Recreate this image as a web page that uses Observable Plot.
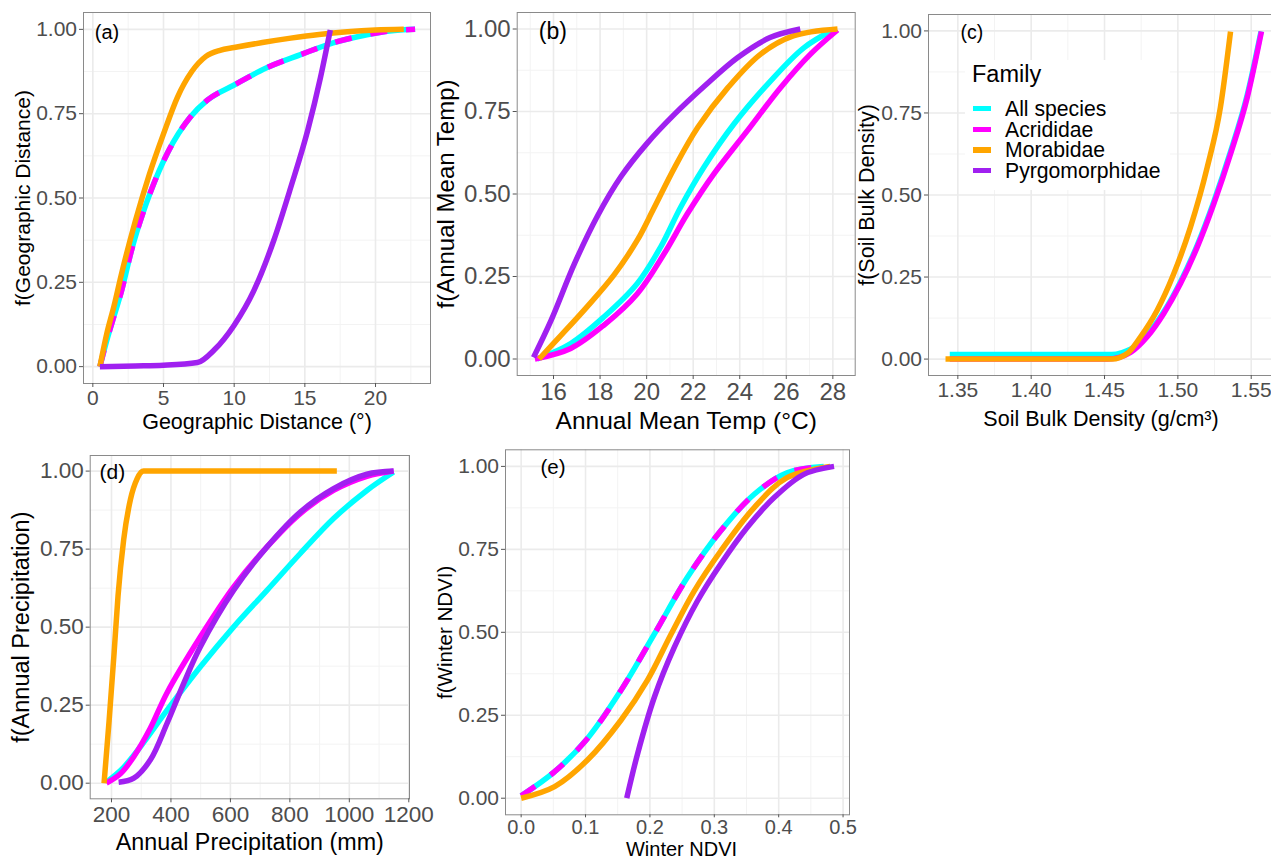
<!DOCTYPE html>
<html>
<head>
<meta charset="utf-8">
<script src="https://cdn.jsdelivr.net/npm/d3@7"></script>
<script src="https://cdn.jsdelivr.net/npm/@observablehq/plot@0.6"></script>
<style>
  html, body { margin: 0; padding: 0; background: white; overflow: hidden; }
  #chart { position: relative; width: 1271px; height: 860px; overflow: hidden; background: white;
           font-family: "Liberation Sans", Arial, sans-serif; }
  #legend { position: absolute; background: white; }
  #legend div { position: absolute; white-space: nowrap; }
</style>
</head>
<body>
<div id="chart"></div>
<script>
// ---------- shared ----------
const families = ["All species", "Acrididae", "Morabidae", "Pyrgomorphidae"];
const familyColors = ["#00FFFF", "#FF00FF", "#FFA500", "#A020F0"];
const yTicks = [0, 0.25, 0.5, 0.75, 1];
const yMinor = [0.125, 0.375, 0.625, 0.875];

// ---------- (a) Geographic distance ----------
const geoTicks = [0, 5, 10, 15, 20];
const geoMinor = [2.5, 7.5, 12.5, 17.5, 22.5];
const geoAll = [[0.5,0],[1,0.08],[1.5,0.15],[2,0.22],[2.8,0.355],[3.5,0.45],[4.1,0.52],[5.3,0.635],[6.9,0.74],[8.1,0.79],[10,0.835],[12.3,0.886],[14.7,0.925],[17,0.96],[19.4,0.984],[21,0.995],[22.8,1.0]];
const geoAcrididae = [[0.5,0],[1,0.08],[1.5,0.15],[2,0.22],[2.8,0.355],[3.5,0.45],[4.1,0.52],[5.3,0.635],[6.9,0.74],[8.1,0.79],[10,0.835],[12.3,0.886],[14.7,0.925],[17,0.96],[19.4,0.984],[21,0.995],[22.8,1.0]];
const geoMorabidae = [[0.5,0],[1,0.1],[1.5,0.18],[2,0.27],[3,0.43],[4,0.57],[5,0.69],[6,0.8],[7,0.875],[8,0.92],[9,0.938],[10,0.946],[12,0.961],[14,0.974],[16,0.985],[18,0.993],[20,0.998],[22,1.0]];
const geoPyrgomorphidae = [[0.5,0],[3,0.002],[5,0.004],[7.4,0.012],[8.6,0.05],[10,0.123],[11.4,0.226],[12.8,0.374],[14,0.531],[15.2,0.7],[16.1,0.856],[16.8,0.998]];

// ---------- (b) Annual mean temperature ----------
const tempTicks = [16, 18, 20, 22, 24, 26, 28];
const tempMinor = [15, 17, 19, 21, 23, 25, 27];
const tempAll = [[15.3,0],[16.74,0.047],[18.17,0.128],[19.6,0.229],[20.6,0.339],[21.46,0.46],[22.46,0.581],[23.75,0.712],[25.33,0.843],[26.75,0.943],[28.0,0.997]];
const tempAcrididae = [[15.2,0],[16.74,0.032],[18.17,0.103],[19.6,0.198],[20.75,0.319],[21.75,0.44],[22.89,0.561],[24.33,0.692],[25.76,0.823],[27.04,0.924],[28.2,0.997]];
const tempMorabidae = [[15.38,0],[16.3,0.07],[17.4,0.155],[18.6,0.255],[19.6,0.36],[20.3,0.455],[21.2,0.58],[22.2,0.702],[23.5,0.823],[24.9,0.924],[26.3,0.979],[28.2,1.0]];
const tempPyrgomorphidae = [[15.14,0.005],[15.9,0.118],[16.9,0.289],[17.9,0.435],[18.9,0.553],[20.0,0.652],[21.2,0.742],[22.5,0.828],[23.9,0.913],[25.3,0.974],[26.6,1.0]];

// ---------- (c) Soil bulk density ----------
const soilTicks = [1.35, 1.40, 1.45, 1.50, 1.55];
const soilMinor = [1.375, 1.425, 1.475, 1.525];
const soilAll = [[1.3445,0.014],[1.455,0.014],[1.462,0.02],[1.4677,0.03],[1.4791,0.074],[1.4904,0.144],[1.5018,0.236],[1.5132,0.347],[1.5245,0.48],[1.5359,0.632],[1.5473,0.805],[1.5567,0.998]];
const soilAcrididae = [[1.3445,0],[1.452,0],[1.46,0.005],[1.4677,0.02],[1.4791,0.068],[1.4904,0.139],[1.5018,0.23],[1.5132,0.341],[1.5245,0.473],[1.5359,0.625],[1.5473,0.797],[1.557,0.998]];
const soilMorabidae = [[1.3416,0],[1.455,0],[1.4655,0.017],[1.4746,0.068],[1.4859,0.149],[1.4972,0.26],[1.5086,0.402],[1.52,0.584],[1.529,0.767],[1.5359,0.998]];

// ---------- (d) Annual precipitation ----------
const precTicks = [200, 400, 600, 800, 1000, 1200];
const precMinor = [300, 500, 700, 900, 1100];
const precAll = [[185,0.005],[240,0.05],[300,0.12],[387,0.234],[499,0.373],[611,0.501],[723,0.618],[835,0.736],[947,0.848],[1059,0.938],[1149,0.997]];
const precAcrididae = [[183,0],[230,0.03],[275,0.085],[330,0.175],[387,0.29],[499,0.469],[611,0.629],[723,0.757],[835,0.864],[947,0.938],[1059,0.983],[1149,1.0]];
const precMorabidae = [[175,0],[192,0.2],[209,0.42],[222,0.6],[241,0.78],[264,0.91],[286,0.975],[308,1.0],[958,1.0]];
const precPyrgomorphidae = [[224,0.003],[275,0.016],[331,0.075],[387,0.192],[443,0.32],[499,0.437],[611,0.618],[723,0.757],[835,0.869],[947,0.944],[1059,0.99],[1149,1.0]];

// ---------- (e) Winter NDVI ----------
const ndviTicks = [0, 0.1, 0.2, 0.3, 0.4, 0.5];
const ndviMinor = [0.05, 0.15, 0.25, 0.35, 0.45];
const ndviAll = [[0,0.007],[0.052,0.08],[0.103,0.18],[0.155,0.325],[0.207,0.495],[0.258,0.665],[0.31,0.806],[0.362,0.916],[0.413,0.981],[0.47,1.0]];
const ndviAcrididae = [[0,0.007],[0.052,0.08],[0.103,0.18],[0.155,0.325],[0.207,0.495],[0.258,0.665],[0.31,0.806],[0.362,0.916],[0.413,0.981],[0.47,1.0]];
const ndviMorabidae = [[0,0],[0.052,0.035],[0.103,0.115],[0.155,0.235],[0.196,0.355],[0.233,0.495],[0.269,0.625],[0.31,0.745],[0.362,0.876],[0.413,0.966],[0.48,1.0]];
const ndviPyrgomorphidae = [[0.164,0],[0.181,0.135],[0.207,0.305],[0.238,0.455],[0.274,0.595],[0.31,0.706],[0.351,0.816],[0.393,0.906],[0.439,0.976],[0.486,1.0]];

const FONT = '"Liberation Sans", Arial, sans-serif';
const chart = document.getElementById("chart");

function makePanel(cfg) {
  const marks = [
    Plot.ruleX(cfg.xMinor, {stroke: "#f3f3f3", strokeWidth: 1}),
    Plot.ruleY(yMinor, {stroke: "#f3f3f3", strokeWidth: 1}),
    Plot.ruleX(cfg.xTicks, {stroke: "#ebebeb", strokeWidth: 1.6}),
    Plot.ruleY(yTicks, {stroke: "#ebebeb", strokeWidth: 1.6})
  ];
  cfg.series.forEach(s => {
    marks.push(Plot.line(s.data, {
      x: d => d[0], y: d => d[1], stroke: s.color, strokeWidth: 5.5,
      curve: s.curve || cfg.curve || "monotone-x", strokeLinecap: "butt", strokeLinejoin: "round",
      strokeDasharray: s.dash
    }));
  });
  marks.push(Plot.frame({stroke: "#8a8a8a", strokeWidth: 1}));
  marks.push(Plot.axisX({ticks: cfg.xTicks, tickFormat: cfg.xFormat, fontSize: cfg.xTickFont || cfg.tickFont,
    tickSize: cfg.xTickSize || 4, tickPadding: cfg.xTickPad || 3, stroke: "#555", fill: "#4d4d4d", label: null}));
  marks.push(Plot.axisY({ticks: yTicks, tickFormat: d3.format(".2f"), fontSize: cfg.tickFont,
    tickSize: 4, tickPadding: 2.5, stroke: "#555", fill: "#4d4d4d", label: null}));
  marks.push(Plot.text([cfg.xTitle], {text: d => d, frameAnchor: "bottom", dy: cfg.xTitleDy, dx: cfg.xTitleDx || 0,
    lineAnchor: "top", textAnchor: "middle", fontSize: cfg.xTitleFont, fill: "black"}));
  marks.push(Plot.text([cfg.yTitle], {text: d => d, frameAnchor: "left", rotate: -90, dx: cfg.yTitleDx,
    lineAnchor: "top", textAnchor: "middle", fontSize: cfg.yTitleFont, fill: "black"}));
  marks.push(Plot.text([cfg.label], {text: d => d, frameAnchor: "top-left", dx: cfg.labelDx, dy: cfg.labelDy,
    textAnchor: "start", lineAnchor: "middle", fontSize: cfg.labelFont, fill: "black"}));

  const svg = Plot.plot({
    width: cfg.w, height: cfg.h,
    marginTop: cfg.m[0], marginRight: cfg.m[1], marginBottom: cfg.m[2], marginLeft: cfg.m[3],
    x: {type: "linear", domain: cfg.xDomain},
    y: {type: "linear", domain: [-0.05, 1.05]},
    style: {background: "transparent", overflow: "visible", fontFamily: FONT, color: "black"},
    marks
  });
  svg.style.position = "absolute";
  svg.style.left = cfg.left + "px";
  svg.style.top = cfg.top + "px";
  svg.style.maxWidth = "none";
  chart.appendChild(svg);
}

function ser(list, dashIdx, curves) {
  return list.map((data, i) => data ? {data, color: familyColors[i],
    dash: (dashIdx === i ? "17,19" : undefined), curve: curves ? curves[i] : undefined} : null).filter(Boolean);
}

makePanel({
  left: 0, top: 0, w: 440, h: 435, m: [12, 10, 52, 83],
  xDomain: [-0.66, 23.89], xTicks: geoTicks, xMinor: geoMinor, xFormat: d3.format("d"),
  series: ser([geoAll, geoAcrididae, geoMorabidae, geoPyrgomorphidae], 1),
  xTitle: "Geographic Distance (°)", yTitle: "f(Geographic Distance)",
  tickFont: 21, xTitleFont: 21.5, yTitleFont: 21, xTitleDy: 30, yTitleDx: -68,
  label: "(a)", labelFont: 20, labelDx: 11.3, labelDy: 19.7
});

makePanel({
  left: 430, top: 0, w: 430, h: 435, m: [12, 5.3, 60, 86.7], curve: "catmull-rom",
  xDomain: [14.44, 28.96], xTicks: tempTicks, xMinor: tempMinor, xFormat: d3.format("d"),
  series: ser([tempAll, tempAcrididae, tempMorabidae, tempPyrgomorphidae], -1),
  xTitle: "Annual Mean Temp (°C)", yTitle: "f(Annual Mean Temp)",
  tickFont: 24, xTitleFont: 24.5, yTitleFont: 24, xTitleDy: 35.7, yTitleDx: -80.7,
  label: "(b)", labelFont: 23, labelDx: 21.6, labelDy: 19
});

makePanel({
  left: 850, top: 0, w: 425, h: 435, m: [14, 2, 60, 78],
  xDomain: [1.33, 1.5652], xTicks: soilTicks, xMinor: soilMinor, xFormat: d3.format(".2f"),
  series: ser([soilAll, soilAcrididae, soilMorabidae, null], -1),
  xTitle: "Soil Bulk Density (g/cm³)", yTitle: "f(Soil Bulk Density)",
  tickFont: 21, xTitleFont: 21.5, yTitleFont: 21.5, xTitleDy: 35.7, yTitleDx: -69.7,
  label: "(c)", labelFont: 19.5, labelDx: 32, labelDy: 18
});

makePanel({
  left: 0, top: 430, w: 440, h: 430, m: [25, 31, 61.7, 89.7],
  xDomain: [128.4, 1202.4], xTicks: precTicks, xMinor: precMinor, xFormat: d3.format("d"),
  series: ser([precAll, precAcrididae, precMorabidae, precPyrgomorphidae], -1,
              ["catmull-rom", "catmull-rom", "monotone-x", "catmull-rom"]),
  xTitle: "Annual Precipitation (mm)", yTitle: "f(Annual Precipitation)",
  tickFont: 22.5, xTitleFont: 23.3, yTitleFont: 23.5, xTitleDy: 34.4, yTitleDx: -78,
  label: "(d)", labelFont: 21, labelDx: 9.3, labelDy: 16.7
});

makePanel({
  left: 430, top: 430, w: 440, h: 430, m: [19.3, 21, 45.7, 75], curve: "catmull-rom",
  xDomain: [-0.0243, 0.510], xTicks: ndviTicks, xMinor: ndviMinor, xFormat: d3.format(".1f"),
  series: ser([ndviAll, ndviAcrididae, ndviMorabidae, ndviPyrgomorphidae], 1),
  xTitle: "Winter NDVI", yTitle: "f(Winter NDVI)",
  tickFont: 21, xTickFont: 20, xTickSize: 3, xTickPad: 1.5,
  xTitleFont: 20, yTitleFont: 20.5, xTitleDy: 27, xTitleDx: 4, yTitleDx: -68.3,
  label: "(e)", labelFont: 20.5, labelDx: 35, labelDy: 18
});

// ---------- legend (inside panel c) ----------
const legend = document.createElement("div");
legend.id = "legend";
legend.style.left = "965px"; legend.style.top = "60px";
legend.style.width = "205px"; legend.style.height = "130px";
const lt = document.createElement("div");
lt.textContent = "Family";
(function () {
  const f = 23.5, L = 22;
  const base = (L - 1.117 * f) / 2 + 0.905 * f;
  lt.style.left = "7px"; lt.style.top = (81.7 - 60 - base) + "px";
  lt.style.fontSize = f + "px"; lt.style.lineHeight = L + "px"; lt.style.color = "black";
})();
legend.appendChild(lt);
const rowCenters = [108.7, 129.3, 150, 170.7];
families.forEach((f, i) => {
  const key = document.createElement("div");
  key.style.left = "8px"; key.style.top = (rowCenters[i] - 60 - 2.75) + "px";
  key.style.width = "18px"; key.style.height = "5.5px"; key.style.background = familyColors[i];
  legend.appendChild(key);
  const t = document.createElement("div");
  t.textContent = f;
  const fs = 21.2, L = 18;
  const base = (L - 1.117 * fs) / 2 + 0.905 * fs;
  t.style.left = "40px"; t.style.top = (rowCenters[i] + 0.358 * fs - 60 - base) + "px";
  t.style.fontSize = fs + "px"; t.style.lineHeight = L + "px"; t.style.color = "black";
  legend.appendChild(t);
});
chart.appendChild(legend);
</script>
</body>
</html>
